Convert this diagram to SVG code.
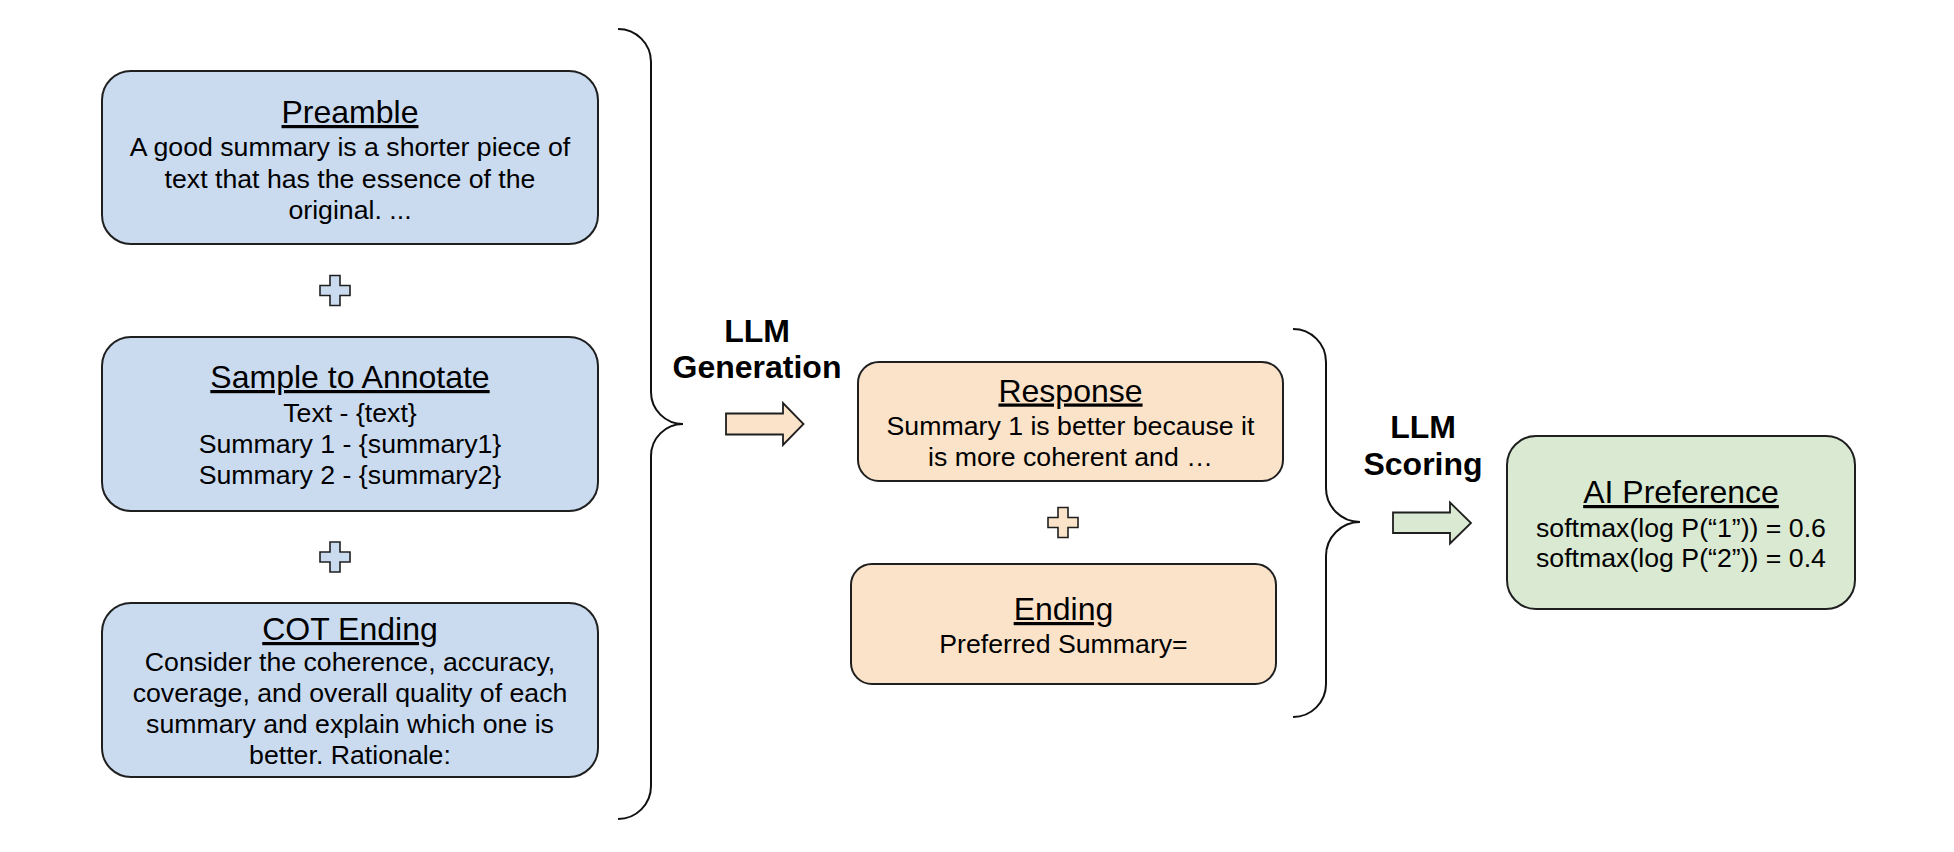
<svg xmlns="http://www.w3.org/2000/svg" width="1954" height="852" viewBox="0 0 1954 852">
<style>
  .box{stroke:#1f1f1f;stroke-width:2}
  .blue{fill:#cadbf0}
  .peach{fill:#fae3c9}
  .green{fill:#d9e9d2}
  .t{font-family:"Liberation Sans",Arial,sans-serif;fill:#000;text-anchor:middle}
  .title{font-size:32px;text-decoration:underline}
  .body{font-size:26.7px}
  .lbl{font-family:"Liberation Sans",Arial,sans-serif;font-size:32px;font-weight:bold;fill:#000;text-anchor:middle}
  .brace{fill:none;stroke:#111;stroke-width:2}
  .arrow{stroke:#1f1f1f;stroke-width:1.8;stroke-linejoin:miter}
  .plus{stroke:#1f1f1f;stroke-width:1.6}
</style>
<defs>
  <path id="plusShape" d="M-5,-15 h10 v10 h10 v10 h-10 v10 h-10 v-10 h-10 v-10 h10 z"/>
</defs>
<rect width="1954" height="852" fill="#ffffff"/>

<g id="preamble">
  <rect class="box blue" x="102" y="71" width="496" height="173" rx="29" ry="29"/>
  <text class="t title" x="350" y="123">Preamble</text>
  <text class="t body" x="350" y="156">A good summary is a shorter piece of</text>
  <text class="t body" x="350" y="187.5">text that has the essence of the</text>
  <text class="t body" x="350" y="219">original. ...</text>
</g>

<g id="plus1">
  <use href="#plusShape" class="plus blue" transform="translate(335,290.5)"/>
</g>

<g id="sample">
  <rect class="box blue" x="102" y="337" width="496" height="174" rx="29" ry="29"/>
  <text class="t title" x="350" y="388">Sample to Annotate</text>
  <text class="t body" x="350" y="421.5">Text - {text}</text>
  <text class="t body" x="350" y="452.5">Summary 1 - {summary1}</text>
  <text class="t body" x="350" y="483.5">Summary 2 - {summary2}</text>
</g>

<g id="plus2">
  <use href="#plusShape" class="plus blue" transform="translate(335,557)"/>
</g>

<g id="cot">
  <rect class="box blue" x="102" y="603" width="496" height="174" rx="29" ry="29"/>
  <text class="t title" x="350" y="640">COT Ending</text>
  <text class="t body" x="350" y="671">Consider the coherence, accuracy,</text>
  <text class="t body" x="350" y="702">coverage, and overall quality of each</text>
  <text class="t body" x="350" y="733">summary and explain which one is</text>
  <text class="t body" x="350" y="764">better. Rationale:</text>
</g>

<g id="llm-generation">
  <text class="lbl" x="757" y="341.5">LLM</text>
  <text class="lbl" x="757" y="378">Generation</text>
</g>

<g id="response">
  <rect class="box peach" x="858" y="362" width="425" height="119" rx="21" ry="21"/>
  <text class="t title" x="1070.5" y="401.5">Response</text>
  <text class="t body" x="1070.5" y="434.5">Summary 1 is better because it</text>
  <text class="t body" x="1070.5" y="466">is more coherent and …</text>
</g>

<g id="plus3">
  <use href="#plusShape" class="plus peach" transform="translate(1063,522.5)"/>
</g>

<g id="ending">
  <rect class="box peach" x="851" y="564" width="425" height="120" rx="21" ry="21"/>
  <text class="t title" x="1063.5" y="620">Ending</text>
  <text class="t body" x="1063.5" y="653">Preferred Summary=</text>
</g>

<g id="llm-scoring">
  <text class="lbl" x="1423" y="438">LLM</text>
  <text class="lbl" x="1423" y="474.5">Scoring</text>
</g>

<g id="ai-preference">
  <rect class="box green" x="1507" y="436" width="348" height="173" rx="29" ry="29"/>
  <text class="t title" x="1681" y="503">AI Preference</text>
  <text class="t body" x="1681" y="536.5">softmax(log P(“1”)) = 0.6</text>
  <text class="t body" x="1681" y="567">softmax(log P(“2”)) = 0.4</text>
</g>

<g id="connectors">
  <path class="brace" d="M618,29 A33,33 0 0 1 651,62 L651,392 A32,32 0 0 0 683,424 A32,32 0 0 0 651,456 L651,786 A33,33 0 0 1 618,819"/>
  <path class="brace" d="M1293,329 A33,33 0 0 1 1326,362 L1326,488 A34,34 0 0 0 1360,522 A34,34 0 0 0 1326,556 L1326,684 A33,33 0 0 1 1293,717"/>
  <path class="arrow peach" d="M726,413.5 L783,413.5 L783,403 L803.5,424 L783,445 L783,434.5 L726,434.5 Z"/>
  <path class="arrow green" d="M1393,512.5 L1450,512.5 L1450,502.5 L1471,523 L1450,543.5 L1450,533 L1393,533 Z"/>
</g>
</svg>
